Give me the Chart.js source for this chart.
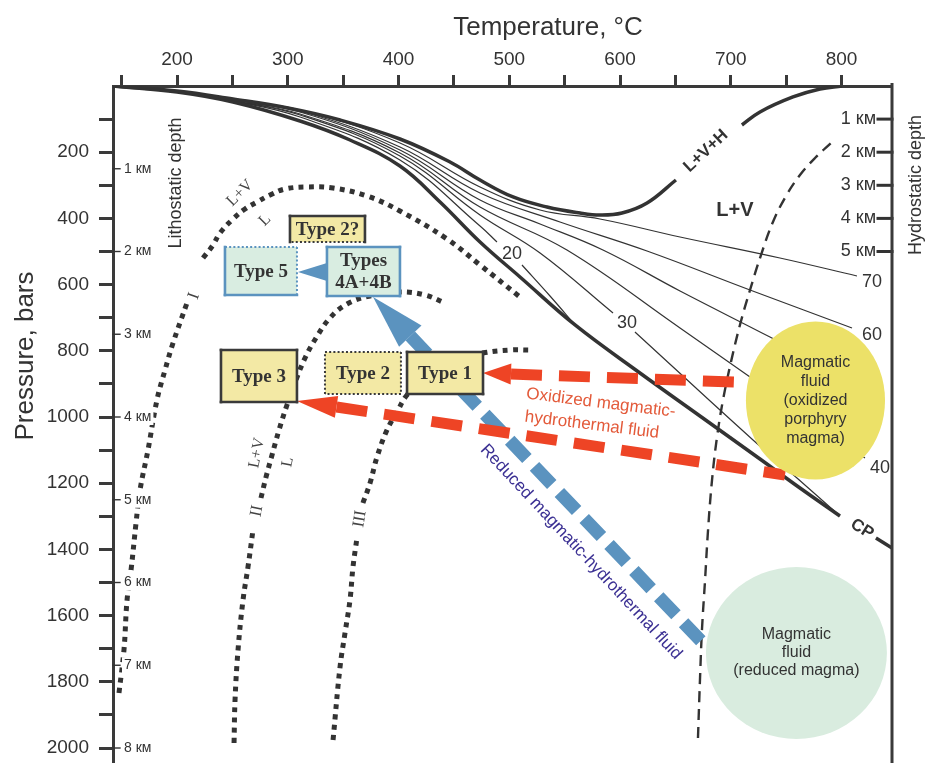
<!DOCTYPE html>
<html>
<head>
<meta charset="utf-8">
<script src="https://cdn.jsdelivr.net/npm/chart.js@4.4.0/dist/chart.umd.min.js"></script>
<style>
  html, body { margin: 0; padding: 0; background: #fff; }
  canvas { display: block; }
</style>
</head>
<body>
<canvas id="chart" width="926" height="763"></canvas>
<script>
// ---------- axis ticks ----------
const tempTicks = [150, 200, 250, 300, 350, 400, 450, 500, 550, 600, 650, 700, 750, 800];
const pressureTicks = [100, 200, 300, 400, 500, 600, 700, 800, 900, 1000,
                       1100, 1200, 1300, 1400, 1500, 1600, 1700, 1800, 1900, 2000];

// depth scales: hydrostatic (≈100 bar per km) and lithostatic (≈250 bar per km)
const hydroDepthKm = [1, 2, 3, 4, 5];
const hydroPressure = [100, 200, 300, 400, 500];
const lithoDepthKm = [1, 2, 3, 4, 5, 6, 7, 8];
const lithoPressure = [250, 500, 750, 1000, 1250, 1500, 1750, 2000];

// ---------- phase boundaries, [T °C, P bar] ----------
// L+V+H boundary (split around its label)
const lvhCurveLow = [[142.2, 0], [200, 15.1], [250.6, 39.3], [300.2, 66.5], [347.2, 102.7],
  [401.3, 160.1], [446.5, 229.6], [473.6, 284.0], [503.4, 335.3], [534.1, 365.6],
  [563.9, 383.7], [581.9, 389.7], [601.8, 383.7], [624.4, 353.5], [650.5, 284.0]];
const lvhCurveHigh = [[710.1, 117.8], [726.4, 78.5], [756.2, 33.2], [780.6, 9.1], [800.4, 0]];

// critical curve up to CP, and its continuation
const criticalCurve = [[142.2, 0], [200, 18.1], [250.6, 48.3], [311.1, 105.7], [356.2, 163.1],
  [401.3, 241.7], [437.5, 350.4], [473.6, 471.3], [509.7, 577.0], [559.4, 722.0],
  [618.0, 867.1], [672.2, 997.0], [726.4, 1126.9], [762.5, 1214.5], [798.6, 1299.1]];
const criticalTail = [[831.1, 1365.5], [845.6, 1395.7]];

// L+V curves for given salinity, wt% NaCl
const iso70 = [[142.2, 0], [200, 15.1], [250.6, 42.3], [311.1, 72.5], [401.3, 172.2],
  [473.6, 305.1], [527.8, 374.6], [581.9, 401.8], [654.2, 456.2], [744.4, 519.6], [814.0, 574.0]];
const iso60 = [[142.2, 0], [200, 15.1], [250.6, 42.3], [311.1, 75.5], [401.3, 184.3],
  [473.6, 323.3], [545.8, 410.9], [624.4, 498.5], [717.4, 616.3], [809.5, 731.1]];
const iso50 = [[142.2, 0], [200, 15.1], [250.6, 45.3], [311.1, 78.5], [401.3, 193.4],
  [473.6, 344.4], [527.8, 416.9], [584.6, 495.5], [654.2, 619.3], [735.4, 758.3], [771.5, 821.7]];
const iso40 = [[142.2, 0], [200, 18.1], [250.6, 45.3], [311.1, 84.6], [401.3, 202.4],
  [473.6, 365.6], [552.1, 495.5], [654.2, 731.1], [717.4, 879.1], [821.2, 1123.8]];
const iso30Low = [[142.2, 0], [200, 18.1], [250.6, 45.3], [311.1, 87.6], [401.3, 211.5],
  [473.6, 389.7], [527.8, 504.5], [593.7, 685.8]];
const iso30High = [[613.5, 743.2], [720.1, 1069.5], [759.8, 1184.3], [798.6, 1299.1]];
const iso20Low = [[142.2, 0], [200, 18.1], [250.6, 45.3], [311.1, 93.7], [401.3, 223.6],
  [473.6, 423.0], [488.9, 471.3]];
const iso20High = [[511.5, 540.8], [536.8, 634.4], [559.4, 722.0]];

// L+V / L boundaries I, II, III (split around their labels)
const boundaryILow = [[147.6, 1833.8], [152.1, 1703.9], [154.9, 1552.8], [158.5, 1462.2],
  [163.0, 1320.2], [166.6, 1220.5], [173.8, 1099.7], [181.9, 948.6], [189.2, 858.0],
  [196.4, 776.4], [209.0, 655.6]];
const boundaryIHigh = [[223.5, 519.6], [232.5, 480.4], [238.8, 444.1], [250.6, 401.8],
  [261.4, 371.6], [272.2, 350.4], [284.0, 329.3], [297.5, 311.2], [317.4, 305.1],
  [340.9, 308.2], [371.5, 332.3], [401.3, 377.6], [443.8, 462.2], [473.6, 540.8], [509.7, 637.5]];
const boundaryIILow = [[251.5, 1984.9], [252.4, 1855.0], [255.1, 1703.9], [259.6, 1552.8],
  [264.1, 1453.1], [268.6, 1341.4]];
const boundaryIIHigh = [[275.8, 1244.7], [280.4, 1181.2], [285.8, 1114.8], [292.1, 1039.3],
  [299.3, 963.7], [307.4, 888.2], [315.6, 821.7], [325.5, 761.3], [338.1, 700.9],
  [353.5, 658.6], [374.3, 634.4], [401.3, 622.3], [423.9, 631.4], [442.0, 655.6]];
const boundaryIIILow = [[340.9, 1975.8], [347.2, 1755.3], [351.7, 1652.5], [356.2, 1552.8],
  [358.9, 1453.1], [362.5, 1365.5]];
const boundaryIIIHigh = [[367.9, 1259.8], [374.3, 1199.4], [380.6, 1120.8], [389.6, 1039.3],
  [398.6, 984.9], [407.7, 933.5], [428.4, 864.0], [451.0, 827.8], [476.3, 806.6],
  [500.7, 797.6], [518.7, 797.6]];

// L+V field limit (dashed)
const lvLimit = [[670.4, 1969.8], [672.2, 1794.5], [674.0, 1643.5], [676.8, 1492.4],
  [679.5, 1341.4], [683.1, 1190.3], [687.6, 1060.4], [693.0, 948.6], [700.2, 833.8],
  [708.3, 722.0], [717.4, 616.3], [727.3, 510.6], [738.1, 410.9], [749.9, 332.3],
  [762.5, 268.9], [776.1, 217.5], [791.4, 169.2]];

// ---------- fluid sources and pathways ----------
const oxidizedSource = { t: 776.5, p: 950.1, dt: 62.8, dp: 238.7 };
const reducedSource  = { t: 759.3, p: 1713.0, dt: 81.7, dp: 259.8 };
const oxidizedPathUpper = { tail: [726.4, 897.3], tip: [476.3, 867.1] };
const oxidizedPathLower = { tail: [749.0, 1175.2], tip: [308.3, 951.6] };
const reducedPath       = { tail: [674.0, 1679.7], tip: [377.0, 637.5] };
const type4to5          = { tail: [335.4, 561.9], tip: [309.2, 561.9] };

// ---------- deposit-type fields: T range, P range ----------
const depositNames = ['Type 2?', 'Type 5', 'Types\n4A+4B', 'Type 3', 'Type 2', 'Type 1'];
const depositT = [[302.0, 369.7], [243.3, 308.3], [335.4, 401.3], [239.7, 308.3], [333.6, 402.2], [407.7, 476.3]];
const depositP = [[392.7, 471.3], [486.4, 631.4], [486.4, 634.4], [797.6, 954.7], [803.6, 930.5], [803.6, 930.5]];

// ---------- styling ----------
const SANS = "'Liberation Sans', Arial, Helvetica, sans-serif";
const SERIF = "'Liberation Serif', 'Times New Roman', serif";
const INK = '#333333';
const AXIS = '#3a3a3a';
const RED = '#ee4425';
const BLUE = '#5b93bf';
const BOX_YELLOW = '#f3e9a5';
const BOX_GREEN = '#d9ede1';

// per-box look: fill, border colour, dotted sides [top, right, bottom, left]
const depositStyle = [
  { fill: BOX_YELLOW, stroke: AXIS, dotted: [false, false, true, false] },
  { fill: BOX_GREEN, stroke: BLUE, dotted: [true, true, false, false] },
  { fill: BOX_GREEN, stroke: BLUE, dotted: [false, false, false, false] },
  { fill: BOX_YELLOW, stroke: AXIS, dotted: [false, false, false, false] },
  { fill: BOX_YELLOW, stroke: AXIS, dotted: [true, true, true, true] },
  { fill: BOX_YELLOW, stroke: AXIS, dotted: [false, false, false, false] }
];

// text placed in the plot, anchored at [T, P]
const plotLabels = [
  { text: 'L+V+H', at: [677.6, 196.4], rot: -43, font: `bold 17px ${SANS}`, color: INK },
  { text: 'L+V', at: [703.8, 374.6], rot: 0, font: `bold 20px ${SANS}`, color: INK },
  { text: 'CP', at: [818.5, 1338.3], rot: 32, font: `bold 17px ${SANS}`, color: INK },
  { text: '20', at: [502.5, 507.5], rot: 0, font: `18px ${SANS}`, color: INK },
  { text: '30', at: [606.3, 716.0], rot: 0, font: `18px ${SANS}`, color: INK },
  { text: '70', at: [827.5, 592.1], rot: 0, font: `18px ${SANS}`, color: INK },
  { text: '60', at: [827.5, 752.3], rot: 0, font: `18px ${SANS}`, color: INK },
  { text: '40', at: [834.7, 1154.1], rot: 0, font: `18px ${SANS}`, color: INK },
  { text: 'L+V', at: [256.9, 323.3], rot: -45, font: `16px ${SERIF}`, color: '#444' },
  { text: 'L', at: [279.5, 404.8], rot: -45, font: `16px ${SERIF}`, color: '#444' },
  { text: 'I', at: [215.3, 634.4], rot: -70, font: `17px ${SERIF}`, color: '#444' },
  { text: 'II', at: [272.2, 1284.0], rot: -78, font: `17px ${SERIF}`, color: '#444' },
  { text: 'III', at: [365.2, 1308.1], rot: -80, font: `17px ${SERIF}`, color: '#444' },
  { text: 'L+V', at: [272.2, 1108.7], rot: -78, font: `16px ${SERIF}`, color: '#444' },
  { text: 'L', at: [300.2, 1135.9], rot: -78, font: `16px ${SERIF}`, color: '#444' },
  { text: 'Oxidized magmatic-', at: [582.8, 957.7], rot: 7, font: `17px ${SANS}`, color: '#e35a3a' },
  { text: 'hydrothermal fluid', at: [574.7, 1024.2], rot: 7, font: `17px ${SANS}`, color: '#e35a3a' },
  { text: 'Reduced magmatic-hydrothermal fluid', at: [564.8, 1407.8], rot: 47, font: `17px ${SANS}`, color: '#3b3093' }
];

const toXY = arr => arr.map(([x, y]) => ({ x, y }));

function curve(data, width, dash) {
  return {
    data: toXY(data),
    showLine: true,
    borderColor: INK,
    borderWidth: width,
    borderDash: dash || [],
    borderCapStyle: 'butt',
    pointRadius: 0,
    pointHoverRadius: 0,
    tension: 0.4,
    fill: false
  };
}

const DOTS = [5, 5.3];
const datasets = [
  curve(lvhCurveLow, 3.5), curve(lvhCurveHigh, 3.5),
  curve(criticalCurve, 3.5), curve(criticalTail, 3.5),
  curve(iso70, 1.2), curve(iso60, 1.2), curve(iso50, 1.2), curve(iso40, 1.2),
  curve(iso30Low, 1.2), curve(iso30High, 1.2), curve(iso20Low, 1.2), curve(iso20High, 1.2),
  curve(boundaryILow, 5, DOTS), curve(boundaryIHigh, 5, DOTS),
  curve(boundaryIILow, 5, DOTS), curve(boundaryIIHigh, 5, DOTS),
  curve(boundaryIIILow, 5, DOTS), curve(boundaryIIIHigh, 5, DOTS),
  curve(lvLimit, 2.4, [11, 7])
];

function drawText(ctx, text, x, y, rot, font, color, align) {
  ctx.save();
  ctx.translate(x, y);
  ctx.rotate((rot || 0) * Math.PI / 180);
  ctx.font = font;
  ctx.fillStyle = color;
  ctx.textAlign = align || 'center';
  ctx.textBaseline = 'middle';
  ctx.fillText(text, 0, 0);
  ctx.restore();
}

function drawArrow(ctx, tip, tail, o) {
  const dx = tail[0] - tip[0], dy = tail[1] - tip[1];
  const len = Math.hypot(dx, dy), ux = dx / len, uy = dy / len;
  const bx = tip[0] + ux * o.head, by = tip[1] + uy * o.head;
  if (o.width) {
    ctx.beginPath();
    ctx.moveTo(bx, by);
    ctx.lineTo(tail[0], tail[1]);
    ctx.setLineDash(o.dash);
    ctx.lineCap = 'butt';
    ctx.lineWidth = o.width;
    ctx.strokeStyle = o.color;
    ctx.stroke();
    ctx.setLineDash([]);
  }
  ctx.beginPath();
  ctx.moveTo(tip[0], tip[1]);
  ctx.lineTo(bx - uy * o.half, by + ux * o.half);
  ctx.lineTo(bx + uy * o.half, by - ux * o.half);
  ctx.closePath();
  ctx.fillStyle = o.color;
  ctx.fill();
}

const overlay = {
  id: 'overlay',
  afterDraw(chart) {
    const { ctx, chartArea: area, scales } = chart;
    const X = t => scales.x.getPixelForValue(t);
    const Y = p => scales.y.getPixelForValue(p);
    const pt = a => [X(a[0]), Y(a[1])];
    ctx.save();

    // fluid pathways
    const redStyle1 = { color: RED, width: 11, dash: [31, 17], head: 28, half: 10.5 };
    const redStyle2 = { color: RED, width: 11, dash: [31, 17], head: 40, half: 11 };
    const blueStyle = { color: BLUE, width: 13, dash: [25, 11], head: 54, half: 15.5 };
    drawArrow(ctx, pt(reducedPath.tip), pt(reducedPath.tail), blueStyle);
    drawArrow(ctx, pt(oxidizedPathUpper.tip), pt(oxidizedPathUpper.tail), redStyle1);
    drawArrow(ctx, pt(oxidizedPathLower.tip), pt(oxidizedPathLower.tail), redStyle2);
    drawArrow(ctx, pt(type4to5.tip), pt(type4to5.tail), { color: BLUE, head: 29, half: 9 });

    // magma sources
    const sources = [
      { s: oxidizedSource, fill: '#ece168', lines: ['Magmatic', 'fluid', '(oxidized', 'porphyry', 'magma)'], lh: 19 },
      { s: reducedSource, fill: '#d9ecdf', lines: ['Magmatic', 'fluid', '(reduced magma)'], lh: 18 }
    ];
    sources.forEach(({ s, fill, lines, lh }) => {
      const cx = X(s.t), cy = Y(s.p);
      const rx = Math.abs(X(s.t + s.dt) - cx), ry = Math.abs(Y(s.p + s.dp) - cy);
      ctx.beginPath();
      ctx.ellipse(cx, cy, rx, ry, 0, 0, Math.PI * 2);
      ctx.fillStyle = fill;
      ctx.fill();
      lines.forEach((ln, i) => {
        drawText(ctx, ln, cx, cy + (i - (lines.length - 1) / 2) * lh, 0, `16px ${SANS}`, INK);
      });
    });

    // deposit-type boxes
    depositNames.forEach((name, i) => {
      const l = X(depositT[i][0]), r = X(depositT[i][1]);
      const t = Y(depositP[i][0]), b = Y(depositP[i][1]);
      const st = depositStyle[i];
      ctx.fillStyle = st.fill;
      ctx.fillRect(l, t, r - l, b - t);
      const sides = [[l, t, r, t], [r, t, r, b], [r, b, l, b], [l, b, l, t]];
      sides.forEach((sd, k) => {
        ctx.beginPath();
        ctx.moveTo(sd[0], sd[1]);
        ctx.lineTo(sd[2], sd[3]);
        ctx.strokeStyle = st.stroke;
        if (st.dotted[k]) {
          ctx.setLineDash([2, 2.2]);
          ctx.lineWidth = 2;
          ctx.lineCap = 'butt';
        } else {
          ctx.setLineDash([]);
          ctx.lineWidth = 2.6;
          ctx.lineCap = 'square';
        }
        ctx.stroke();
      });
      ctx.setLineDash([]);
      const rows = name.split('\n');
      rows.forEach((row, k) => {
        drawText(ctx, row, (l + r) / 2, (t + b) / 2 + (k - (rows.length - 1) / 2) * 22 + 1,
          0, `bold 19px ${SERIF}`, INK);
      });
    });

    // labels in the plot
    plotLabels.forEach(lb => {
      drawText(ctx, lb.text, X(lb.at[0]), Y(lb.at[1]), lb.rot, lb.font, lb.color);
    });

    // lithostatic depth scale (inside, left); labels sit on a white patch
    ctx.strokeStyle = INK;
    lithoPressure.forEach((p, i) => {
      const y = Y(p);
      const txt = `${lithoDepthKm[i]} км`;
      ctx.font = `14px ${SANS}`;
      const w = ctx.measureText(txt).width;
      ctx.fillStyle = '#fff';
      ctx.fillRect(area.left + 9, y - 8, w + 4, 16);
      ctx.beginPath();
      ctx.lineWidth = 1.4;
      ctx.moveTo(area.left, y);
      ctx.lineTo(area.left + 7, y);
      ctx.stroke();
      drawText(ctx, txt, area.left + 11, y, 0, `14px ${SANS}`, INK, 'left');
    });
    drawText(ctx, 'Lithostatic depth', area.left + 63, 183, -90, `18px ${SANS}`, INK);

    // hydrostatic depth scale (inside, right)
    hydroPressure.forEach((p, i) => {
      const y = Y(p);
      ctx.beginPath();
      ctx.lineWidth = 3;
      ctx.moveTo(area.right - 14, y);
      ctx.lineTo(area.right, y);
      ctx.stroke();
      drawText(ctx, `${hydroDepthKm[i]} км`, area.right - 16, y, 0, `18px ${SANS}`, INK, 'right');
    });
    drawText(ctx, 'Hydrostatic depth', area.right + 24, 185, -90, `18px ${SANS}`, INK);

    // right frame line
    ctx.beginPath();
    ctx.lineWidth = 3;
    ctx.strokeStyle = AXIS;
    ctx.moveTo(area.right, area.top - 1.5);
    ctx.lineTo(area.right, area.bottom);
    ctx.stroke();

    // axis titles
    drawText(ctx, 'Temperature, °C', 548, 28, 0, `26px ${SANS}`, INK);
    drawText(ctx, 'Pressure, bars', 26, 356, -90, `26px ${SANS}`, INK);

    ctx.restore();
  }
};

new Chart(document.getElementById('chart'), {
  type: 'scatter',
  data: { datasets },
  options: {
    responsive: false,
    animation: false,
    devicePixelRatio: 1,
    events: [],
    layout: { padding: { left: 0, right: 34, top: 0, bottom: 0 } },
    plugins: { legend: { display: false }, tooltip: { enabled: false }, title: { display: false } },
    scales: {
      x: {
        type: 'linear',
        position: 'top',
        min: 142.2,
        max: 845.6,
        afterBuildTicks: s => { s.ticks = tempTicks.map(v => ({ value: v })); },
        afterFit: s => { s.height = 86; s.paddingLeft = 0; s.paddingRight = 0; },
        grid: { drawOnChartArea: false, drawTicks: true, tickLength: 11, tickWidth: 3, tickColor: AXIS },
        border: { display: true, color: AXIS, width: 3 },
        ticks: {
          autoSkip: false, maxRotation: 0, minRotation: 0, padding: 4,
          color: INK, font: { family: SANS, size: 19 },
          callback: v => (v % 100 === 0 ? String(v) : '')
        }
      },
      y: {
        type: 'linear',
        position: 'left',
        reverse: true,
        min: 0,
        max: 2045.3,
        afterBuildTicks: s => { s.ticks = pressureTicks.map(v => ({ value: v })); },
        afterFit: s => { s.width = 113; s.paddingTop = 0; s.paddingBottom = 0; },
        grid: { drawOnChartArea: false, drawTicks: true, tickLength: 14, tickWidth: 3, tickColor: AXIS },
        border: { display: true, color: AXIS, width: 3 },
        ticks: {
          autoSkip: false, padding: 10,
          color: INK, font: { family: SANS, size: 19 },
          callback: v => (v % 200 === 0 ? String(v) : '')
        }
      }
    }
  },
  plugins: [overlay]
});
</script>
</body>
</html>
